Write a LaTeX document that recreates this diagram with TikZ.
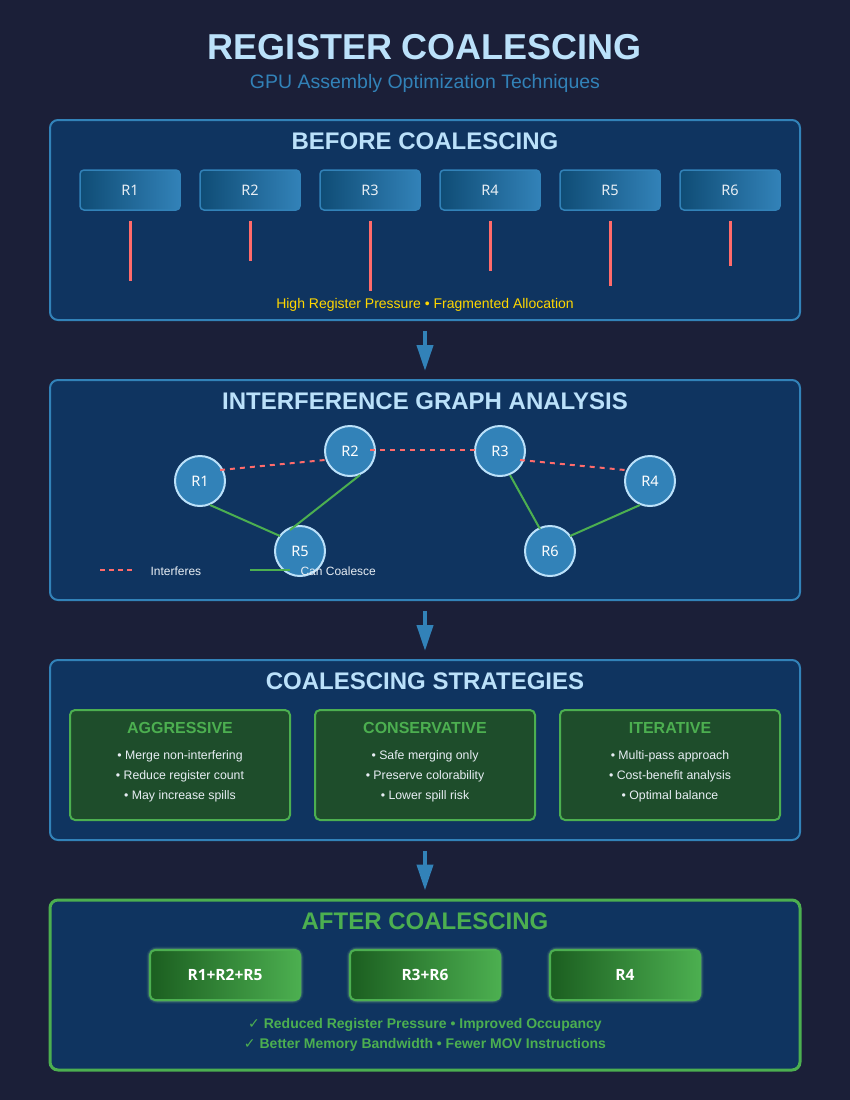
\documentclass[tikz,border=0pt]{standalone}
\usepackage{fontspec}
\setmainfont{Liberation Sans}
\newfontfamily\regfont{Noto Sans}
\newfontfamily\mergefont{Open Sans}
\newfontfamily\symfont{DejaVu Sans}
\usetikzlibrary{arrows.meta,calc}

\definecolor{pagebg}{HTML}{1B1F38}
\definecolor{panelbg}{HTML}{0F3460}
\definecolor{accent}{HTML}{3282B8}
\definecolor{deepblue}{HTML}{0F4C75}
\definecolor{lightblue}{HTML}{BBE1FA}
\definecolor{warnred}{HTML}{FF6B6B}
\definecolor{goldtext}{HTML}{FFD700}
\definecolor{okgreen}{HTML}{4CAF50}
\definecolor{darkgreen}{HTML}{1B5E20}
\definecolor{boxgreen}{HTML}{1E4D2B}
\definecolor{softwhite}{HTML}{E8EEF4}

\tikzset{
  panel/.style={draw=accent, line width=2pt, fill=panelbg, rounded corners=8pt,
    minimum width=750pt, inner sep=0pt},
  donepanel/.style={panel, draw=okgreen, line width=3pt},
  paneltitle/.style={font=\bfseries\fontsize{24}{28}\selectfont, text=lightblue},
  regbox/.style={draw=accent, line width=1.5pt, rounded corners=4pt,
    left color=deepblue, right color=accent, minimum width=100pt, minimum height=40pt,
    text=softwhite, font=\regfont\fontsize{14.5}{16}\selectfont},
  pressure/.style={draw=warnred, line width=3pt},
  vreg/.style={circle, minimum size=50pt, inner sep=0pt, fill=accent, draw=lightblue,
    line width=2pt, text=white, font=\regfont\fontsize{14.5}{16}\selectfont},
  interf/.style={draw=warnred, line width=2pt, dash pattern=on 5pt off 5pt},
  coalesce/.style={draw=okgreen, line width=2pt},
  legendtext/.style={anchor=west, text=softwhite, font=\fontsize{12}{14}\selectfont},
  flow/.style={draw=accent, line width=4pt, -{Triangle[width=16pt,length=26pt]}},
  strat/.style={draw=okgreen, line width=2pt, fill=boxgreen, rounded corners=5pt,
    minimum width=220pt, minimum height=110pt, inner sep=0pt},
  strattitle/.style={text=okgreen, font=\bfseries\fontsize{16}{18}\selectfont},
  bullet/.style={text=softwhite, font=\fontsize{12.3}{14}\selectfont},
  merged/.style={draw=okgreen, line width=2pt, rounded corners=5pt,
    left color=darkgreen, right color=okgreen, minimum width=150pt, minimum height=50pt,
    text=white, font=\mergefont\bfseries\fontsize{15.5}{18}\selectfont},
  glow/.style={draw=okgreen!70!white, rounded corners=7pt, minimum width=150pt,
    minimum height=50pt},
  gain/.style={text=okgreen, font=\bfseries\fontsize{14}{16}\selectfont}
}

\begin{document}
\begin{tikzpicture}[x=1pt,y=-1pt]
\useasboundingbox[fill=pagebg] (0,0) rectangle (850,1100);

% heading
\node[text=lightblue, font=\bfseries\fontsize{36}{40}\selectfont] (title) at (425,47) {REGISTER COALESCING};
\node[text=accent, font=\fontsize{19.5}{23}\selectfont] (subtitle) at (425,83) {GPU Assembly Optimization Techniques};

% ---------- before coalescing ----------
\node[panel, minimum height=200pt] (p1) at (425,220) {};
\node[paneltitle] (t1) at (425,141) {BEFORE COALESCING};
\foreach \i/\len in {1/60, 2/40, 3/70, 4/50, 5/65, 6/45} {
  \node[regbox] (b\i) at ({10+120*\i},190) {R\i};
  \draw[pressure] ($(b\i.south)+(0,10)$) -- ++(0,\len);
}
\node[text=goldtext, font=\fontsize{14}{16}\selectfont] (note1) at (425,305)
  {High Register Pressure \textbullet{} Fragmented Allocation};

% ---------- interference graph ----------
\node[panel, minimum height=220pt] (p2) at (425,490) {};
\node[paneltitle] (t2) at (425,401) {INTERFERENCE GRAPH ANALYSIS};

\node[vreg] (r1) at (200,481) {R1};
\node[vreg] (r2) at (350,451) {R2};
\node[vreg] (r3) at (500,451) {R3};
\node[vreg] (r4) at (650,481) {R4};
\node[vreg] (r5) at (300,551) {R5};
\node[vreg] (r6) at (550,551) {R6};

\draw[interf] ($(r1)+(20,-11)$) -- ($(r2)+(-25,9)$);
\draw[interf] ($(r2)+(20,-1)$) -- ($(r3)+(-25,-1)$);
\draw[interf] ($(r3)+(20,9)$) -- ($(r4)+(-25,-11)$);
\draw[coalesce] ($(r1)+(10,24)$) -- ($(r5)+(-20,-15)$);
\draw[coalesce] ($(r2)+(10,24)$) -- ($(r5)+(-10,-21)$);
\draw[coalesce] ($(r3)+(10,24)$) -- ($(r6)+(-10,-22)$);
\draw[coalesce] ($(r4)+(-10,24)$) -- ($(r6)+(20,-15)$);

% legend
\coordinate (la) at (100,570);
\coordinate (lb) at (135,570);
\coordinate (lc) at (250,570);
\coordinate (ld) at (290,570);
\draw[interf, dash pattern=on 5pt off 4pt] (la) -- (lb);
\node[legendtext] (lt1) at (147,571) {Interferes};
\draw[coalesce] (lc) -- (ld);
\node[legendtext] (lt2) at (297,571) {Can Coalesce};

% ---------- strategies ----------
\node[panel, minimum height=180pt] (p3) at (425,750) {};
\node[paneltitle] (t3) at (425,681) {COALESCING STRATEGIES};

\node[strat] (s1) at (180,765) {};
\node[strat] (s2) at (425,765) {};
\node[strat] (s3) at (670,765) {};

\node[strattitle] (s1t) at ($(s1.north)+(0,19)$) {AGGRESSIVE};
\node[bullet] (s1a) at ($(s1.north)+(0,47)$) {\textbullet{} Merge non-interfering};
\node[bullet] (s1b) at ($(s1.north)+(0,67)$) {\textbullet{} Reduce register count};
\node[bullet] (s1c) at ($(s1.north)+(0,87)$) {\textbullet{} May increase spills};

\node[strattitle] (s2t) at ($(s2.north)+(0,19)$) {CONSERVATIVE};
\node[bullet] (s2a) at ($(s2.north)+(0,47)$) {\textbullet{} Safe merging only};
\node[bullet] (s2b) at ($(s2.north)+(0,67)$) {\textbullet{} Preserve colorability};
\node[bullet] (s2c) at ($(s2.north)+(0,87)$) {\textbullet{} Lower spill risk};

\node[strattitle] (s3t) at ($(s3.north)+(0,19)$) {ITERATIVE};
\node[bullet] (s3a) at ($(s3.north)+(0,47)$) {\textbullet{} Multi-pass approach};
\node[bullet] (s3b) at ($(s3.north)+(0,67)$) {\textbullet{} Cost-benefit analysis};
\node[bullet] (s3c) at ($(s3.north)+(0,87)$) {\textbullet{} Optimal balance};

% ---------- after coalescing ----------
\node[donepanel, minimum height=170pt] (p4) at (425,985) {};
\node[paneltitle, text=okgreen] (t4) at (425,921) {AFTER COALESCING};

\foreach \x/\nm/\lab in {225/m1/R1+R2+R5, 425/m2/R3+R6, 625/m3/R4} {
  % soft halo round each merged register
  \node[glow, line width=7pt, opacity=0.10] at (\x,975) {};
  \node[glow, line width=5pt, opacity=0.15] at (\x,975) {};
  \node[glow, line width=3.5pt, opacity=0.25] at (\x,975) {};
  \node[merged] (\nm) at (\x,975) {\lab};
}
\node[gain] (g1) at (425,1025) {{\symfont ✓} Reduced Register Pressure \textbullet{} Improved Occupancy};
\node[gain] (g2) at (425,1045) {{\symfont ✓} Better Memory Bandwidth \textbullet{} Fewer MOV Instructions};

% ---------- flow between stages ----------
\draw[flow, shorten <=10pt, shorten >=8pt] (p1.south) -- (p2.north);
\draw[flow, shorten <=10pt, shorten >=8pt] (p2.south) -- (p3.north);
\draw[flow, shorten <=10pt, shorten >=8pt] (p3.south) -- (p4.north);
\end{tikzpicture}
\end{document}
